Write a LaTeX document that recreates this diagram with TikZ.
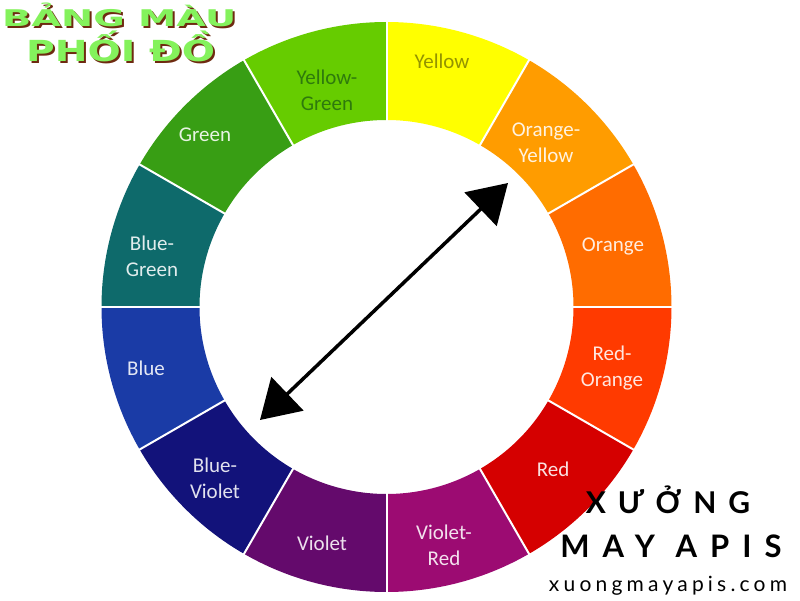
\documentclass[tikz,border=0pt]{standalone}
\usepackage{fontspec}
\setmainfont{Carlito}
\newfontfamily\titlefont{DejaVu Sans}
\newfontfamily\brandfont[LetterSpace=40]{Lato}
\newfontfamily\brandfontb[LetterSpace=42]{Lato}
\newfontfamily\webfont[LetterSpace=20]{Lato}
\usetikzlibrary{arrows.meta}
\definecolor{cYellow}{HTML}{FFFF00}
\definecolor{cOrangeYellow}{HTML}{FF9C00}
\definecolor{cOrange}{HTML}{FF6C00}
\definecolor{cRedOrange}{HTML}{FF3A00}
\definecolor{cRed}{HTML}{D50000}
\definecolor{cVioletRed}{HTML}{9C0B72}
\definecolor{cViolet}{HTML}{640A6C}
\definecolor{cBlueViolet}{HTML}{12127A}
\definecolor{cBlue}{HTML}{1A3BA6}
\definecolor{cBlueGreen}{HTML}{0E6A6B}
\definecolor{cGreen}{HTML}{389E14}
\definecolor{cYellowGreen}{HTML}{66CC00}
\definecolor{titlegreen}{HTML}{84F25C}
\definecolor{titleshadow}{HTML}{6E2A10}
\newcommand{\shadowtext}[1]{\rlap{\textcolor{titleshadow}{\raisebox{-1.5pt}{\hspace{2pt}#1}}}\textcolor{titlegreen}{#1}}
\tikzset{
  lbl/.style={font=\fontsize{21}{26}\selectfont, text=white, text opacity=0.88, align=center, inner sep=0pt},
  sep/.style={white, line width=2pt},
  ttl/.style={anchor=base west, inner sep=0pt},
  brand/.style={anchor=base, inner sep=0pt, text=black},
  dblarrow/.style={line width=3.5pt, {Triangle[length=38pt,width=46pt]}-{Triangle[length=38pt,width=46pt]}}
}
\begin{document}
\begin{tikzpicture}[x=1pt,y=1pt]
\useasboundingbox (0,0) rectangle (800,600);
\fill[white] (0,0) rectangle (800,600);
\coordinate (C) at (386.5,293);
\begin{scope}[shift={(C)}]
  \foreach \a/\col [evaluate=\a as \b using \a+30] in {60/cYellow, 30/cOrangeYellow, 0/cOrange, -30/cRedOrange, -60/cRed, -90/cVioletRed, -120/cViolet, -150/cBlueViolet, 180/cBlue, 150/cBlueGreen, 120/cGreen, 90/cYellowGreen}{
    \fill[\col] (\a:187) -- (\a:285) arc[start angle=\a, end angle=\b, radius=285] -- (\b:187) arc[start angle=\b, end angle=\a, radius=187] -- cycle;
  }
  \foreach \a in {0,30,...,330}{
    \draw[sep] (\a:186) -- (\a:286);
  }
\end{scope}
% labels
\node[lbl, text=black!35!cYellow!80!black] (lYellow) at (442,539) {Yellow};
\node[lbl, text=cGreen!70!black] (lYellowGreen) at (327,510) {Yellow-\\Green};
\node[lbl] (lOrangeYellow) at (546,457) {Orange-\\Yellow};
\node[lbl] (lOrange) at (613,354) {Orange};
\node[lbl] (lRedOrange) at (612,232) {Red-\\Orange};
\node[lbl] (lRed) at (553,131) {Red};
\node[lbl] (lVioletRed) at (444,55) {Violet-\\Red};
\node[lbl] (lViolet) at (322,57) {Violet};
\node[lbl] (lBlueViolet) at (215,122) {Blue-\\Violet};
\node[lbl] (lBlue) at (146,232) {Blue};
\node[lbl] (lBlueGreen) at (152,344) {Blue-\\Green};
\node[lbl] (lGreen) at (205,465) {Green};
% arrow
\coordinate (tipA) at (508,417);
\coordinate (tipB) at (260,180);
\draw[dblarrow] (tipB) -- (tipA);
% title
\node[ttl] (t1) at (2,573) {\titlefont\bfseries\fontsize{23}{23}\selectfont\shadowtext{\scalebox{1.67}[1]{BẢNG MÀU}}};
\node[ttl] (t2) at (26,538) {\titlefont\bfseries\fontsize{29}{29}\selectfont\shadowtext{\scalebox{1.35}[1]{PHỐI ĐỒ}}};
% brand
\node[brand] (b1) at (668,87) {\brandfont\bfseries\fontsize{30}{30}\selectfont XƯỞNG};
\node[brand] (b2) at (671,43) {\brandfontb\bfseries\fontsize{31}{31}\selectfont MAY APIS};
\node[brand] (b3) at (668,9) {\webfont\fontsize{21}{21}\selectfont xuongmayapis.com};
\end{tikzpicture}
\end{document}
